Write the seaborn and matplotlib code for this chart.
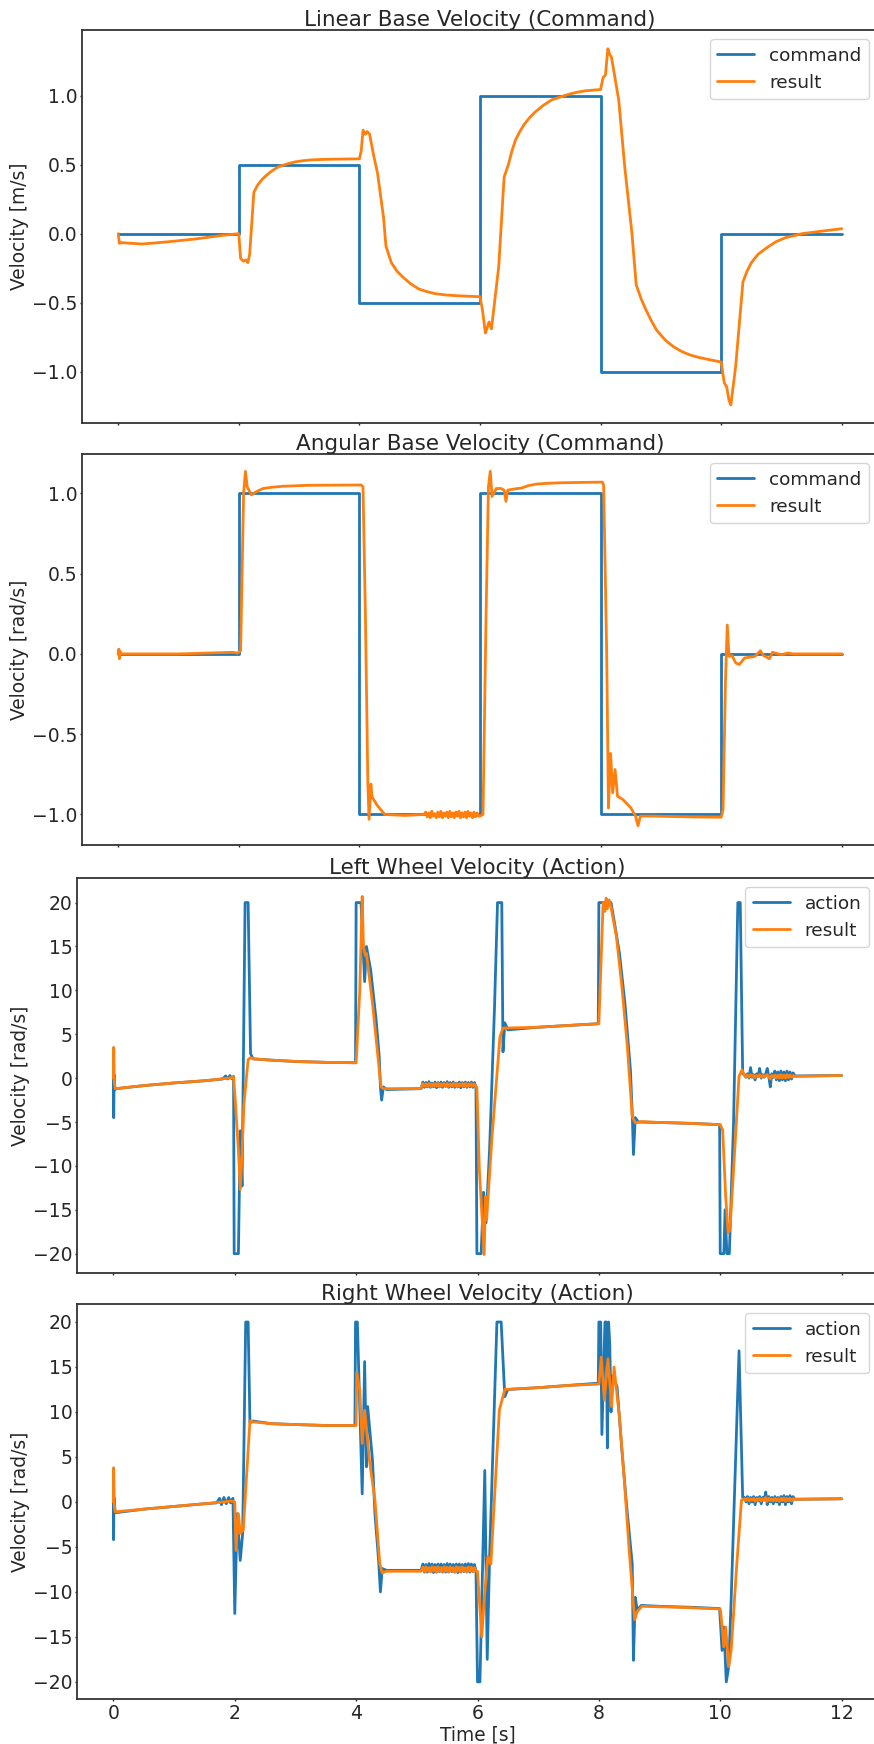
import matplotlib
matplotlib.use("Agg")
import matplotlib.pyplot as plt
import seaborn as sns
import pandas as pd

# ---------------- data ----------------
cmd_t = [0, 2, 4, 6, 8, 10, 12]
lin_cmd = [0.0, 0.5, -0.5, 1.0, -1.0, 0.0, 0.0]
ang_cmd = [0.0, 1.0, -1.0, 1.0, -1.0, 0.0, 0.0]

# sample times of the noisy stretches
band_t = [5.100, 5.125, 5.150, 5.175, 5.200, 5.225, 5.250, 5.275, 5.300, 5.325, 5.350, 5.375,
          5.400, 5.425, 5.450, 5.475, 5.500, 5.525, 5.550, 5.575, 5.600, 5.625, 5.650, 5.675,
          5.700, 5.725, 5.750, 5.775, 5.800, 5.825, 5.850, 5.875, 5.900, 5.925, 5.950, 5.975]
tail_t = [10.400, 10.425, 10.450, 10.475, 10.500, 10.525, 10.550, 10.575, 10.600, 10.625,
          10.650, 10.675, 10.700, 10.725, 10.750, 10.775, 10.800, 10.825, 10.850, 10.875,
          10.900, 10.925, 10.950, 10.975, 11.000, 11.025, 11.050, 11.075, 11.100, 11.125,
          11.150, 11.175, 11.200, 11.225]

lin_result = [
    (0.0, 0.0), (0.02, -0.07), (0.05, -0.065), (0.4, -0.075), (0.8, -0.06), (1.27, -0.039),
    (1.73, -0.012), (2.0, 0.0), (2.03, -0.18), (2.08, -0.2), (2.12, -0.19), (2.15, -0.21),
    (2.18, -0.15), (2.25, 0.30), (2.31, 0.35), (2.38, 0.39), (2.45, 0.42), (2.52, 0.445),
    (2.59, 0.467), (2.66, 0.485), (2.8, 0.505), (2.93, 0.52), (3.07, 0.529), (3.21, 0.535),
    (3.4, 0.538), (3.58, 0.54), (4.0, 0.542), (4.03, 0.60), (4.06, 0.75), (4.10, 0.72),
    (4.13, 0.74), (4.17, 0.72), (4.24, 0.56), (4.30, 0.44), (4.40, 0.12), (4.44, -0.09),
    (4.53, -0.21), (4.62, -0.27), (4.71, -0.31), (4.84, -0.36), (4.98, -0.40), (5.12, -0.42),
    (5.26, -0.435), (5.45, -0.445), (5.63, -0.45), (6.0, -0.457),
    (6.04, -0.55), (6.09, -0.72), (6.15, -0.64), (6.19, -0.69), (6.31, -0.24), (6.40, 0.41),
    (6.47, 0.50), (6.53, 0.60), (6.59, 0.68), (6.66, 0.74), (6.73, 0.79), (6.82, 0.84),
    (6.91, 0.88), (7.05, 0.93), (7.19, 0.97), (7.33, 0.99), (7.47, 1.01), (7.6, 1.024),
    (7.74, 1.035), (8.0, 1.045), (8.04, 1.13), (8.08, 1.15), (8.12, 1.34), (8.15, 1.30),
    (8.18, 1.28), (8.3, 0.97), (8.4, 0.485), (8.52, 0.0), (8.59, -0.37), (8.67, -0.47),
    (8.75, -0.55), (8.84, -0.63), (8.93, -0.70), (9.07, -0.77), (9.21, -0.82), (9.35, -0.855),
    (9.49, -0.88), (9.63, -0.897), (9.77, -0.91), (10.0, -0.93), (10.05, -1.08),
    (10.09, -1.11), (10.13, -1.21), (10.16, -1.24), (10.24, -0.96), (10.36, -0.35), (10.43, -0.27),
    (10.5, -0.21), (10.61, -0.15), (10.73, -0.11), (10.9, -0.06), (11.06, -0.03), (11.34, 0.0),
    (11.7, 0.02), (12.0, 0.036),
]

ang_result_a = [
    (0.0, 0.0), (0.01, 0.03), (0.02, -0.03), (0.03, 0.015), (0.06, 0.0), (1.0, 0.0), (1.9, 0.01),
    (1.98, 0.005), (2.03, 0.02), (2.08, 1.0), (2.11, 1.137), (2.14, 1.04), (2.21, 0.99),
    (2.27, 1.006), (2.40, 1.03), (2.55, 1.038), (2.73, 1.044), (3.15, 1.05), (3.6, 1.051),
    (4.03, 1.052), (4.06, 1.04), (4.10, 0.23), (4.14, -0.80), (4.16, -1.03), (4.19, -0.81),
    (4.21, -0.89), (4.29, -0.94), (4.42, -1.0), (4.75, -1.006), (5.07, -1.0),
]
ang_band = [-0.985, -1.015, -0.99, -1.02, -0.98, -1.01, -0.995, -1.02, -0.985, -1.015, -0.98,
            -1.02, -0.99, -1.01, -0.985, -1.02, -0.98, -1.015, -0.99, -1.02, -0.985, -1.01,
            -0.98, -1.02, -0.99, -1.015, -0.985, -1.02, -0.98, -1.01, -0.99, -1.02, -0.985,
            -1.015, -0.99, -1.01]
ang_result_b = [
    (6.0, -1.01), (6.05, -1.0), (6.10, 0.23), (6.14, 1.04), (6.17, 1.137), (6.20, 0.98),
    (6.27, 1.03), (6.35, 1.03), (6.40, 1.02), (6.43, 0.95), (6.46, 1.02), (6.58, 1.028),
    (6.69, 1.033), (6.8, 1.048), (6.94, 1.058), (7.15, 1.063), (7.36, 1.066), (7.7, 1.068),
    (8.03, 1.07), (8.05, 1.05), (8.10, 0.03), (8.13, -0.96), (8.165, -0.62), (8.20, -0.865),
    (8.24, -0.72), (8.28, -0.886), (8.37, -0.907), (8.50, -0.958), (8.58, -1.01), (8.62, -1.07),
    (8.66, -1.01), (8.87, -1.01), (9.5, -1.015), (10.0, -1.017), (10.03, -0.97), (10.07, -0.18),
    (10.10, 0.18), (10.13, -0.015), (10.18, -0.01), (10.24, -0.056), (10.30, -0.066),
    (10.39, -0.025), (10.56, -0.015), (10.65, 0.02), (10.7, -0.01), (10.8, -0.03),
    (10.85, 0.01), (10.9, 0.005), (11.0, -0.005), (11.1, 0.005), (11.2, 0.0), (12.0, 0.0),
]

lw_action_a = [
    (0.0, 0.0), (0.005, -4.5), (0.012, 0.4), (0.02, -1.3), (0.05, -1.2), (0.5, -0.85),
    (1.0, -0.55), (1.5, -0.3), (1.8, -0.1), (1.85, 0.25), (1.88, -0.1), (1.92, 0.3),
    (1.95, -0.05), (1.98, 0.2), (1.99, -20.0), (2.06, -20.0), (2.09, -6.0), (2.12, -12.3),
    (2.17, 20.0), (2.22, 20.0), (2.26, 2.8), (2.3, 2.2), (2.6, 2.05), (3.0, 1.9), (3.5, 1.8),
    (3.99, 1.75), (4.0, 20.0), (4.08, 20.0), (4.14, 11.0), (4.17, 15.0), (4.24, 12.3),
    (4.33, 6.6), (4.38, 2.5), (4.40, -1.0), (4.42, -2.5), (4.45, -1.0), (4.5, -1.3), (5.07, -1.2),
]
lw_action_band = [-0.45, -1.05, -0.5, -1.0, -0.4, -1.05, -0.55, -1.0, -0.45, -1.1, -0.5, -1.0,
                  -0.45, -1.05, -0.5, -0.95, -0.4, -1.05, -0.5, -1.0, -0.45, -1.05, -0.55, -1.0,
                  -0.45, -1.1, -0.5, -1.0, -0.45, -1.05, -0.5, -1.0, -0.45, -1.05, -0.5, -1.0]
lw_action_b = [
    (5.99, -20.0), (6.06, -20.0), (6.1, -13.0), (6.14, -16.5), (6.2, -8.0), (6.28, 8.0),
    (6.33, 20.0), (6.40, 20.0), (6.42, 3.0), (6.45, 6.3), (6.5, 5.5), (7.0, 5.8), (7.5, 6.0),
    (7.99, 6.2), (8.0, 20.0), (8.2, 20.0), (8.25, 18.0), (8.34, 14.2), (8.43, 8.5), (8.52, 0.95),
    (8.55, -4.0), (8.57, -8.7), (8.6, -4.5), (8.65, -5.0), (9.0, -5.05), (9.5, -5.15),
    (9.99, -5.3), (10.0, -20.0), (10.06, -20.0), (10.08, -15.0), (10.11, -20.0), (10.15, -20.0),
    (10.22, -5.0), (10.29, 20.0), (10.33, 20.0), (10.37, 0.5),
]
lw_action_tail = [0.4, 0.1, 0.5, 0.0, 1.2, 0.1, 0.4, -0.2, 0.5, 0.2, 1.1, 0.0, 0.4, 0.1, 0.5,
                  1.1, 0.2, -1.0, 0.5, 0.1, 0.8, -0.2, 0.7, -0.3, 0.8, -0.2, 0.7, -0.3, 0.8,
                  -0.2, 0.7, -0.1, 0.6, 0.3]
lw_action_c = [(11.25, 0.25), (12.0, 0.3)]

lw_result_a = [
    (0.0, 0.0), (0.005, 3.5), (0.015, -0.5), (0.03, -1.2), (0.5, -0.85), (1.0, -0.55),
    (1.5, -0.3), (1.9, 0.0), (1.98, 0.1), (2.01, -2.8), (2.06, -8.2), (2.09, -12.7),
    (2.12, -8.5), (2.15, -3.0), (2.22, 2.1), (2.26, 2.35), (2.3, 2.2), (2.6, 2.05), (3.0, 1.9),
    (3.5, 1.8), (4.0, 1.75), (4.06, 10.0), (4.10, 20.7), (4.12, 15.0), (4.15, 14.0),
    (4.17, 14.2), (4.27, 8.5), (4.38, 0.95), (4.41, -1.0), (4.45, -1.2), (5.07, -1.2),
]
lw_result_band = [-0.62, -0.92, -0.65, -0.9, -0.6, -0.95, -0.65, -0.9, -0.62, -0.92, -0.6,
                  -0.95, -0.65, -0.9, -0.62, -0.92, -0.6, -0.95, -0.65, -0.9, -0.62, -0.92,
                  -0.6, -0.95, -0.65, -0.9, -0.62, -0.92, -0.6, -0.95, -0.65, -0.9, -0.62,
                  -0.92, -0.65, -0.95]
lw_result_b = [
    (5.99, -1.1), (6.03, -10.4), (6.11, -20.1), (6.13, -13.5), (6.15, -16.1), (6.24, -6.6),
    (6.37, 4.7), (6.42, 5.7), (7.0, 5.8), (7.5, 6.0), (8.0, 6.2), (8.07, 20.0), (8.1, 19.0),
    (8.12, 20.5), (8.14, 19.3), (8.17, 20.3), (8.2, 19.5), (8.29, 16.1), (8.38, 10.4),
    (8.47, 3.6), (8.55, -4.4), (8.6, -5.1), (8.7, -4.95), (9.0, -5.05), (9.5, -5.15),
    (10.0, -5.3), (10.04, -5.9), (10.09, -13.5), (10.13, -17.6), (10.16, -17.3),
    (10.22, -10.4), (10.31, 0.2), (10.36, 0.95),
]
lw_result_tail = [0.3, 0.15, 0.35, 0.1, 0.4, 0.2, 0.3, 0.05, 0.3, 0.15, 0.4, 0.1, 0.3, 0.15,
                  0.3, 0.4, 0.15, -0.1, 0.3, 0.15, 0.35, 0.0, 0.35, 0.0, 0.4, 0.0, 0.35, 0.0,
                  0.4, 0.05, 0.35, 0.1, 0.3, 0.2]
lw_result_c = [(11.25, 0.2), (12.0, 0.3)]

rw_action_a = [
    (0.0, 0.0), (0.003, -4.2), (0.01, 0.5), (0.03, -1.2), (0.5, -0.8), (1.0, -0.5),
    (1.5, -0.2), (1.7, -0.1), (1.75, 0.4), (1.78, -0.3), (1.82, 0.5), (1.86, -0.2), (1.9, 0.5),
    (1.93, -0.1), (1.97, 0.4), (2.0, -12.4), (2.04, -1.3), (2.09, -6.5), (2.13, -3.5),
    (2.18, 20.0), (2.22, 20.0), (2.25, 8.8), (2.3, 9.0), (2.6, 8.7), (3.0, 8.6), (3.5, 8.5),
    (3.98, 8.5), (3.99, 20.0), (4.02, 20.0), (4.1, 0.9), (4.14, 15.6), (4.17, 3.9),
    (4.19, 10.6), (4.27, 4.6), (4.31, -1.3), (4.37, -6.5), (4.40, -10.0), (4.43, -7.4),
    (4.5, -7.6), (5.07, -7.6),
]
rw_action_band = [-6.9, -7.8, -6.95, -7.8, -6.85, -7.75, -6.9, -7.85, -6.95, -7.8, -6.9, -7.75,
                  -6.9, -7.8, -6.95, -7.8, -6.85, -7.8, -6.9, -7.75, -6.95, -7.8, -6.9, -7.85,
                  -6.9, -7.8, -6.95, -7.75, -6.9, -7.8, -6.85, -7.8, -6.9, -7.75, -6.95, -7.7]
rw_action_b = [
    (6.0, -20.0), (6.04, -20.0), (6.12, 3.5), (6.16, -17.5), (6.2, -6.0), (6.32, 20.0),
    (6.39, 20.0), (6.45, 11.7), (6.5, 12.5), (7.0, 12.7), (7.5, 12.95), (7.99, 13.2),
    (8.0, 20.0), (8.03, 20.0), (8.05, 7.5), (8.08, 15.0), (8.1, 20.0), (8.12, 20.0),
    (8.14, 6.0), (8.16, 20.0), (8.18, 17.5), (8.2, 10.0), (8.22, 14.0), (8.3, 12.8),
    (8.38, 5.7), (8.46, -0.6), (8.55, -6.9), (8.57, -17.6), (8.6, -10.6), (8.63, -12.0),
    (8.7, -11.5), (9.0, -11.6), (9.5, -11.7), (9.99, -11.85), (10.03, -16.5), (10.06, -13.9),
    (10.1, -20.0), (10.14, -18.3), (10.18, -10.9), (10.31, 16.8), (10.37, 0.5),
]
rw_action_tail = [0.5, 0.0, 0.6, -0.2, 0.5, 0.0, 0.6, -0.3, 0.5, 0.1, 0.6, -0.2, 0.5, 0.2, 1.1,
                  -0.3, 0.6, 0.0, 0.5, -0.2, 0.6, 0.0, 0.5, -0.3, 0.6, 0.0, 0.7, -0.3, 0.6, 0.0,
                  0.7, -0.2, 0.6, 0.3]
rw_action_c = [(11.25, 0.3), (12.0, 0.35)]

rw_result_a = [
    (0.0, 0.0), (0.004, 3.8), (0.015, -0.5), (0.03, -1.1), (0.5, -0.8), (1.0, -0.5),
    (1.5, -0.2), (1.95, 0.1), (2.0, 0.0), (2.02, -5.4), (2.06, -1.3), (2.09, -3.5),
    (2.14, -3.1), (2.25, 9.0), (2.3, 8.9), (2.6, 8.7), (3.0, 8.6), (3.5, 8.5), (4.0, 8.5),
    (4.01, 14.4), (4.06, 12.4), (4.1, 6.5), (4.14, 10.2), (4.22, 4.6), (4.31, 0.2),
    (4.39, -6.9), (4.43, -7.9), (4.5, -7.7), (5.07, -7.7),
]
rw_result_band = [-7.25, -7.75, -7.2, -7.7, -7.3, -7.75, -7.2, -7.7, -7.25, -7.8, -7.2, -7.7,
                  -7.3, -7.75, -7.2, -7.7, -7.25, -7.75, -7.2, -7.7, -7.3, -7.8, -7.2, -7.7,
                  -7.25, -7.75, -7.2, -7.7, -7.3, -7.75, -7.2, -7.7, -7.25, -7.75, -7.3, -7.7]
rw_result_b = [
    (6.0, -7.7), (6.03, -10.9), (6.07, -15.0), (6.11, -10.9), (6.17, -6.1), (6.22, -6.9),
    (6.36, 10.2), (6.45, 12.5), (7.0, 12.7), (7.5, 12.95), (8.0, 13.1), (8.04, 16.1),
    (8.09, 11.3), (8.15, 15.9), (8.21, 10.6), (8.25, 15.0), (8.34, 9.4), (8.42, 2.4),
    (8.5, -5.4), (8.59, -13.1), (8.63, -12.2), (8.71, -11.6), (9.0, -11.65), (9.5, -11.75),
    (10.0, -11.9), (10.01, -12.4), (10.06, -16.1), (10.09, -13.9), (10.14, -18.3),
    (10.18, -16.5), (10.27, -7.2), (10.35, 0.2),
]
rw_result_tail = [0.35, 0.15, 0.4, 0.1, 0.35, 0.2, 0.4, 0.05, 0.35, 0.15, 0.4, 0.1, 0.35, 0.2,
                  0.5, 0.05, 0.4, 0.15, 0.35, 0.1, 0.4, 0.15, 0.35, 0.05, 0.4, 0.15, 0.45, 0.05,
                  0.4, 0.15, 0.4, 0.1, 0.35, 0.3]
rw_result_c = [(11.25, 0.3), (12.0, 0.35)]

titles = ["Linear Base Velocity (Command)", "Angular Base Velocity (Command)",
          "Left Wheel Velocity (Action)", "Right Wheel Velocity (Action)"]
ylabels = ["Velocity [m/s]", "Velocity [rad/s]", "Velocity [rad/s]", "Velocity [rad/s]"]
ref_labels = ["command", "command", "action", "action"]
xticks = [0, 2, 4, 6, 8, 10, 12]
yticks_base = [-1.0, -0.5, 0.0, 0.5, 1.0]
yticks_wheel = [-20, -15, -10, -5, 0, 5, 10, 15, 20]


def to_df(pairs):
    return pd.DataFrame(pairs, columns=["t", "v"])


def build(a, band, b, tail=None, c=None):
    pts = list(a) + list(zip(band_t, band)) + list(b)
    if tail is not None:
        pts += list(zip(tail_t, tail))
    if c is not None:
        pts += list(c)
    return to_df(pts)


# ---------------- style ----------------
sns.set_style("ticks")
plt.rcParams["font.family"] = ["DejaVu Sans"]
plt.rcParams.update({
    "axes.edgecolor": "0.2",
    "axes.linewidth": 1.3,
    "xtick.major.size": 1.7,
    "ytick.major.size": 1.7,
    "xtick.major.pad": 1.7,
    "ytick.major.pad": 1.7,
    "xtick.major.width": 1.0,
    "ytick.major.width": 1.0,
    "xtick.labelsize": 13.5,
    "ytick.labelsize": 13.5,
    "axes.labelsize": 13.4,
    "axes.labelpad": 2.0,
    "axes.titlesize": 15.5,
    "axes.titlepad": 2.9,
    "legend.fontsize": 13.3,
})

BLUE = "#1f77b4"
ORANGE = "#ff7f0e"
W, H = 874, 1744
fig = plt.figure(figsize=(W / 100, H / 100), dpi=100)

# axes boxes in pixels: (left, top, right, bottom)
boxes = [(82, 30, 878, 423), (82, 454, 878, 845), (77, 878, 878, 1273), (77, 1304, 878, 1699)]
ylims = [(-1.372, 1.476), (-1.19, 1.245), (-22.2, 22.8), (-21.9, 22.0)]

ref_series = [
    pd.DataFrame({"t": cmd_t, "v": lin_cmd}),
    pd.DataFrame({"t": cmd_t, "v": ang_cmd}),
    build(lw_action_a, lw_action_band, lw_action_b, lw_action_tail, lw_action_c),
    build(rw_action_a, rw_action_band, rw_action_b, rw_action_tail, rw_action_c),
]
res_series = [
    to_df(lin_result),
    build(ang_result_a, ang_band, ang_result_b),
    build(lw_result_a, lw_result_band, lw_result_b, lw_result_tail, lw_result_c),
    build(rw_result_a, rw_result_band, rw_result_b, rw_result_tail, rw_result_c),
]

for i in range(4):
    l, t, r, b = boxes[i]
    ax = fig.add_axes([l / W, 1 - b / H, (r - l) / W, (b - t) / H])
    kw = dict(estimator=None, sort=False, ax=ax, linewidth=2.0)
    if i < 2:
        sns.lineplot(data=ref_series[i], x="t", y="v", color=BLUE, label=ref_labels[i],
                     drawstyle="steps-post", **kw)
    else:
        sns.lineplot(data=ref_series[i], x="t", y="v", color=BLUE, label=ref_labels[i], **kw)
    sns.lineplot(data=res_series[i], x="t", y="v", color=ORANGE, label="result", **kw)

    ax.set_xlim(-0.6, 12.6)
    ax.set_ylim(*ylims[i])
    ax.set_xticks(xticks)
    ax.set_yticks(yticks_base if i < 2 else yticks_wheel)
    ax.set_title(titles[i])
    ax.set_ylabel(ylabels[i])
    if i < 3:
        ax.set_xlabel("")
        ax.tick_params(axis="x", labelbottom=False)
    else:
        ax.set_xlabel("Time [s]")
    for s in ax.spines.values():
        s.set_visible(True)
    ax.legend(loc="upper right", frameon=True, fancybox=True, framealpha=0.8,
              edgecolor="0.8", handlelength=2.0)

fig.savefig("out.png", dpi=100)
